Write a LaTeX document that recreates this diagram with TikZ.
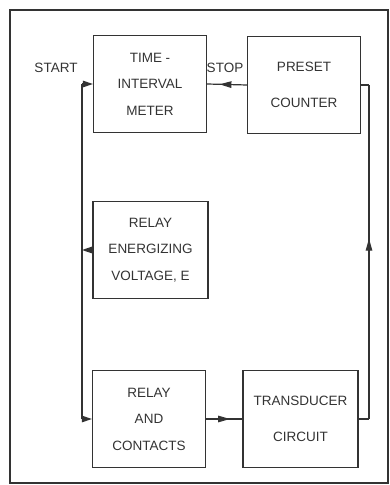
\documentclass[tikz,border=0pt]{standalone}
\usepackage{fontspec}
\setmainfont{Liberation Sans}
\usepackage{tikz}
\usetikzlibrary{arrows.meta, calc, positioning, decorations.markings}

\definecolor{ink}{gray}{0.2}

\tikzset{
  blockbox/.style={draw=ink, line width=1.2pt, minimum width=113pt, minimum height=97pt,
    inner sep=0pt, align=center, text=ink, font=\fontsize{13.5}{26.5}\selectfont},
  twoline/.style={font=\fontsize{13.5}{35.5}\selectfont},
  sidelabel/.style={text=ink, font=\fontsize{13.5}{16}\selectfont, inner sep=0pt},
  wire/.style={draw=ink, line width=1.2pt},
  tip/.style={-{Triangle[length=10pt,width=6.5pt]}},
  midarrow/.style={postaction={decorate}, decoration={markings,
    mark=at position #1 with {\arrow[ink]{Triangle[length=12pt,width=6.5pt]}}}}
}

\begin{document}
\begin{tikzpicture}[x=1pt, y=1pt]
    \useasboundingbox (0,0) rectangle (390,485);
    % outer frame
    \draw[ink, line width=1.4pt] (10,2) rectangle (388,475);

    % blocks
    \node[blockbox] (meter) at (150,401) {TIME -\\INTERVAL\\METER};
    \node[blockbox, twoline] (preset) at (304,400) {PRESET\\COUNTER};
    \node[blockbox, minimum width=115pt] (energ) at (150.5,235) {RELAY\\ENERGIZING\\VOLTAGE, E};
    \node[blockbox] (relay) at (149,66) {RELAY\\AND\\CONTACTS};
    \node[blockbox, twoline, minimum width=115pt] (trans) at (300.5,66) {TRANSDUCER\\CIRCUIT};

    \node[sidelabel] (start) at (56,417) {START};
    \node[sidelabel] (stop) at (225,417) {STOP};

    % left bus
    \coordinate (startjoin) at (82,401);
    \coordinate (relayjoin) at (82,66);
    \draw[wire] (startjoin) -- (relayjoin);
    \draw[wire, tip] (startjoin) -- (meter.west);
    \draw[wire, tip] (relayjoin) -- (relay.west);
    \draw[wire, tip] (energ.west) -- (energ.west -| startjoin);

    % forward path
    \draw[wire, midarrow=0.66] (relay.east) -- (trans.west);
    \coordinate (transjoin) at (369,66);
    \coordinate (presetjoin) at (369,400);
    \draw[wire] (trans.east) -- (transjoin);
    \draw[wire, midarrow=0.54] (transjoin) -- (presetjoin);
    \draw[wire] (presetjoin) -- (preset.east);
    \draw[wire, midarrow=0.69] (preset.west) -- (meter.east);
\end{tikzpicture}
\end{document}
